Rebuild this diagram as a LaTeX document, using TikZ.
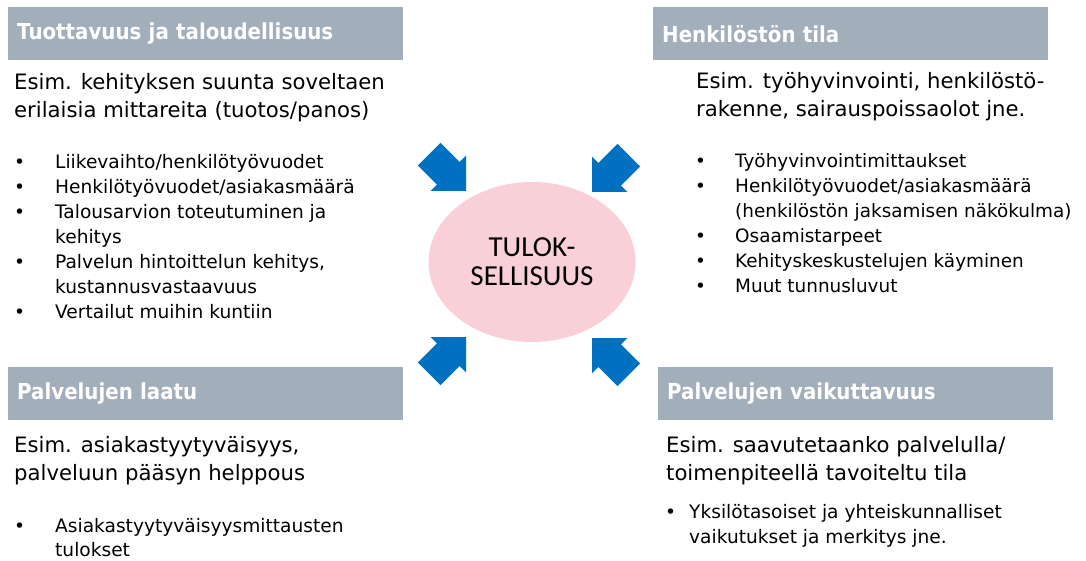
\documentclass[tikz,border=0pt]{standalone}
\usepackage{fontspec}
\usepackage{array}
\setmainfont{DejaVu Sans}
\newfontfamily\headfont[FakeStretch=0.9]{DejaVu Sans}
\newfontfamily\calfont{Carlito}
\usetikzlibrary{shapes.geometric}

\definecolor{barGrey}{HTML}{A3AEBB}
\definecolor{arrowBlue}{HTML}{0070C0}
\definecolor{ellPink}{HTML}{F9D0D8}

% blue block arrow, tip at #1, turned by #2
\newcommand{\blockarrow}[2]{%
  \fill[arrowBlue, shift={#1}, rotate=#2]
    (0,0) -- (-25,25) -- (-25,16) -- (-52,16) -- (-52,-16) -- (-25,-16) -- (-25,-25) -- cycle;}

\tikzset{
  headbar/.style={fill=barGrey, text=white, anchor=north west, inner xsep=9pt, inner ysep=0pt,
    text width=377pt, minimum height=53pt, align=left,
    font=\headfont\bfseries\fontsize{22}{26}\selectfont},
  subtext/.style={anchor=base west, inner sep=0pt, font=\fontsize{21.2}{28}\selectfont},
  bullets/.style={anchor=base west, inner sep=0pt, font=\fontsize{18.6}{25}\selectfont},
}

\begin{document}
\begin{tikzpicture}[x=1pt, y=-1pt]
  \useasboundingbox (0,0) rectangle (1086,561);

  % top left
  \node[headbar] (tuot) at (8,7) {Tuottavuus ja taloudellisuus};
  \node[subtext] (tuotesim) at (14,90) {\begin{tabular}[t]{@{}l@{}}
    Esim. kehityksen suunta soveltaen\\
    erilaisia mittareita (tuotos/panos)\end{tabular}};
  \node[bullets] (tuotlist) at (14,169) {\begin{tabular}[t]{@{}p{41pt}@{}l@{}}
    • & Liikevaihto/henkilötyövuodet\\
    • & Henkilötyövuodet/asiakasmäärä\\
    • & Talousarvion toteutuminen ja\\
      & kehitys\\
    • & Palvelun hintoittelun kehitys,\\
      & kustannusvastaavuus\\
    • & Vertailut muihin kuntiin\end{tabular}};

  % top right
  \node[headbar] (henk) at (653,7) {Henkilöstön tila};
  \node[subtext] (henkesim) at (696,89) {\begin{tabular}[t]{@{}l@{}}
    Esim. työhyvinvointi, henkilöstö-\\
    rakenne, sairauspoissaolot jne.\end{tabular}};
  \node[bullets, font=\fontsize{18.4}{25}\selectfont] (henklist) at (695,168) {\begin{tabular}[t]{@{}p{40pt}@{}l@{}}
    • & Työhyvinvointimittaukset\\
    • & Henkilötyövuodet/asiakasmäärä\\
      & (henkilöstön jaksamisen näkökulma)\\
    • & Osaamistarpeet\\
    • & Kehityskeskustelujen käyminen\\
    • & Muut tunnusluvut\end{tabular}};

  % bottom left
  \node[headbar] (laatu) at (8,367) {Palvelujen laatu};
  \node[subtext] (laatuesim) at (14,452) {\begin{tabular}[t]{@{}l@{}}
    Esim. asiakastyytyväisyys,\\
    palveluun pääsyn helppous\end{tabular}};
  \node[bullets, font=\fontsize{18.6}{24}\selectfont] (laatulist) at (14,532) {\begin{tabular}[t]{@{}p{41pt}@{}l@{}}
    • & Asiakastyytyväisyysmittausten\\
      & tulokset\end{tabular}};

  % bottom right
  \node[headbar] (vaik) at (658,367) {Palvelujen vaikuttavuus};
  \node[subtext] (vaikesim) at (666,452) {\begin{tabular}[t]{@{}l@{}}
    Esim. saavutetaanko palvelulla/\\
    toimenpiteellä tavoiteltu tila\end{tabular}};
  \node[bullets] (vaiklist) at (665,518) {\begin{tabular}[t]{@{}p{24pt}@{}l@{}}
    • & Yksilötasoiset ja yhteiskunnalliset\\
      & vaikutukset ja merkitys jne.\end{tabular}};

  % keskella
  \node[ellipse, fill=ellPink, minimum width=207pt, minimum height=160pt, inner sep=0pt,
    align=center, font=\calfont\fontsize{29}{29}\selectfont] (tulos) at (532,262)
    {TULOK-\\SELLISUUS};

  \blockarrow{(466,191)}{-45}
  \blockarrow{(592,192)}{-135}
  \blockarrow{(466,337)}{45}
  \blockarrow{(592,338)}{135}
\end{tikzpicture}
\end{document}
